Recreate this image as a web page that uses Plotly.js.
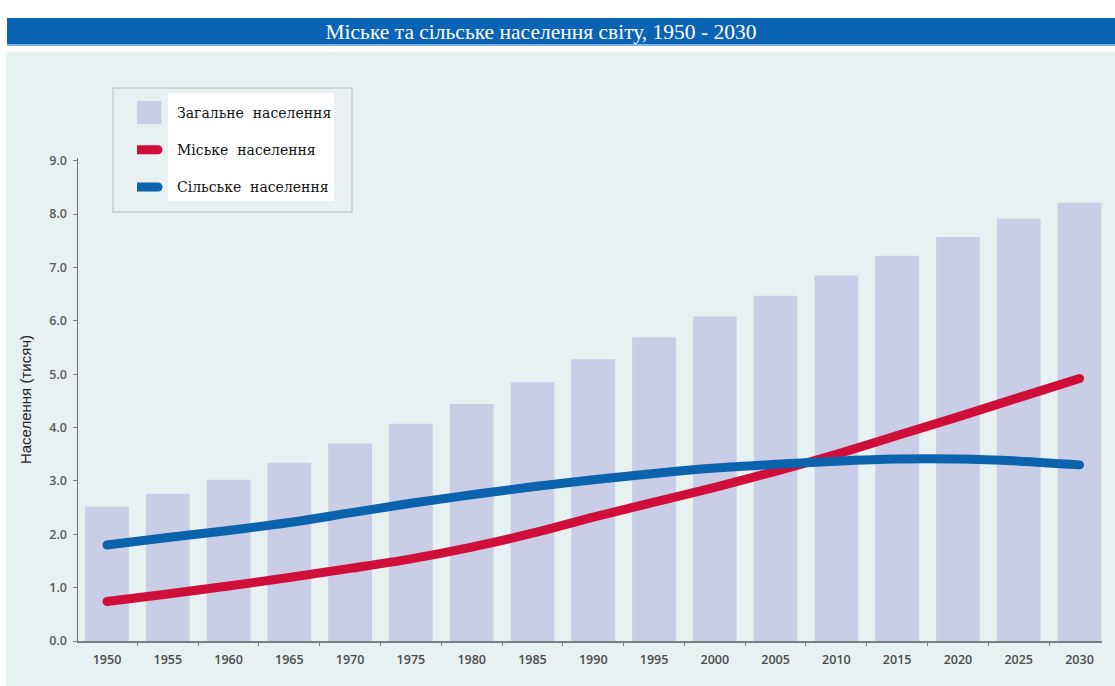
<!DOCTYPE html>
<html><head><meta charset="utf-8">
<script src="https://cdn.plot.ly/plotly-3.0.1.min.js"></script>
<style>
html,body{margin:0;padding:0;background:#fff;}
#chart{width:1115px;height:686px;}
.scatterlayer path.js-line{stroke-linecap:round;}
.legend path.js-line{stroke-linecap:round;}
</style></head><body><div id="chart"></div>
<script>
// ---- data (billions) ----
const years = ["1950","1955","1960","1965","1970","1975","1980","1985","1990","1995","2000","2005","2010","2015","2020","2025","2030"];
const totalPop = [2.52,2.76,3.02,3.34,3.70,4.07,4.44,4.85,5.28,5.69,6.08,6.47,6.85,7.22,7.57,7.91,8.21];
const urbanPop = [0.74,0.88,1.03,1.19,1.36,1.54,1.76,2.02,2.32,2.60,2.88,3.18,3.50,3.85,4.20,4.56,4.92];
const ruralPop = [1.80,1.94,2.07,2.22,2.40,2.58,2.74,2.89,3.02,3.14,3.24,3.31,3.37,3.41,3.41,3.37,3.30];
const seriesNames = ["Загальне\u00a0\u00a0населення","Міське\u00a0\u00a0населення","Сільське\u00a0\u00a0населення"];
const yTickVals = [0,1,2,3,4,5,6,7,8,9];

// ---- layout helpers (pixel -> paper) ----
const L = 78, R = 13, T = 158, B = 45, W = 1115, H = 686;
const pw = W - L - R, ph = H - T - B;
const px = v => (v - L) / pw;
const py = v => (H - B - v) / ph;

const bg = "#e8f1f1";

const traces = [
  {type:"bar", x:years, y:totalPop, name:seriesNames[0], legendgroup:"a",
   marker:{color:"#c9cde6"}},
  {type:"scatter", mode:"lines", x:years, y:urbanPop, name:seriesNames[1], legendgroup:"b",
   line:{color:"#cf0f3a", width:9, shape:"spline", smoothing:1}},
  {type:"scatter", mode:"lines", x:years, y:ruralPop, name:seriesNames[2], legendgroup:"c",
   line:{color:"#0b63ad", width:9, shape:"spline", smoothing:1}}
];

const layout = {
  width:W, height:H,
  margin:{l:L, r:R, t:T, b:B},
  paper_bgcolor:"#ffffff",
  plot_bgcolor:bg,
  bargap:0.28,
  showlegend:true,
  title:{text:"Міське та сільське населення світу, 1950 - 2030",
         font:{family:"Liberation Serif, serif", size:21.5, color:"#ffffff"},
         x:541/W, xref:"container", xanchor:"center",
         y:1-31/H, yref:"container", yanchor:"middle"},
  legend:{x:px(137), y:py(97), xanchor:"left", yanchor:"top",
          bgcolor:"rgba(0,0,0,0)", borderwidth:0,
          tracegroupgap:16, traceorder:"grouped",
          font:{family:"DejaVu Serif, serif", size:14, color:"#111"}},
  xaxis:{type:"category", range:[-0.477, 16.37], showline:true, linecolor:"#7b7f80", linewidth:1.5,
         ticks:"outside", tickson:"boundaries", ticklen:3, tickcolor:"#7b7f80",
         ticklabelstandoff:6,
         tickfont:{family:"Open Sans, sans-serif", size:12.5, color:"#4a4a4a", weight:600},
         showgrid:false, zeroline:false, fixedrange:true},
  yaxis:{range:[0, 9.05], tickvals:yTickVals, tickformat:".1f", showline:true, linecolor:"#6b6f70", linewidth:1.5,
         ticks:"outside", ticklen:4, tickcolor:"#7b7f80",
         ticklabelstandoff:3,
         tickfont:{family:"Open Sans, sans-serif", size:12.5, color:"#5a5a5a", weight:600},
         showgrid:false, zeroline:false, fixedrange:true,
         title:{text:"Населення (тисяч)", standoff:14,
                font:{family:"Liberation Sans, Arial, sans-serif", size:15, color:"#222"}}},
  shapes:[
    {type:"rect", xref:"paper", yref:"paper", layer:"below", x0:px(6), x1:px(W), y0:py(H), y1:py(52),
     fillcolor:bg, line:{width:0}},
    {type:"rect", xref:"paper", yref:"paper", layer:"below", x0:px(7), x1:px(W), y0:py(44), y1:py(18),
     fillcolor:"#0b63b5", line:{width:0}},
    {type:"rect", xref:"paper", yref:"paper", layer:"below", x0:px(7), x1:px(W), y0:py(46), y1:py(44),
     fillcolor:"#7fb3dd", line:{width:0}},
    {type:"rect", xref:"paper", yref:"paper", layer:"above", x0:px(113), x1:px(352), y0:py(212), y1:py(88),
     fillcolor:bg, line:{color:"#c5cbcc", width:1.5}},
    {type:"rect", xref:"paper", yref:"paper", layer:"above", x0:px(168), x1:px(334), y0:py(201), y1:py(93),
     fillcolor:"#ffffff", line:{width:0}}
  ]
};

Plotly.newPlot("chart", traces, layout, {displayModeBar:false, staticPlot:true, responsive:false}).then(gd => {
  // enlarge/shift legend swatches to resemble the original key
  gd.querySelectorAll(".legend .legendpoints path").forEach(p => {
    p.setAttribute("d", "M15.5,11.5H-15.5V-11.5H15.5Z");
    p.setAttribute("transform", "translate(9,0)");
  });
  gd.querySelectorAll(".legend .legendlines path.js-line").forEach(p => p.setAttribute("d", "M-2,0h23"));
});
</script></body></html>
